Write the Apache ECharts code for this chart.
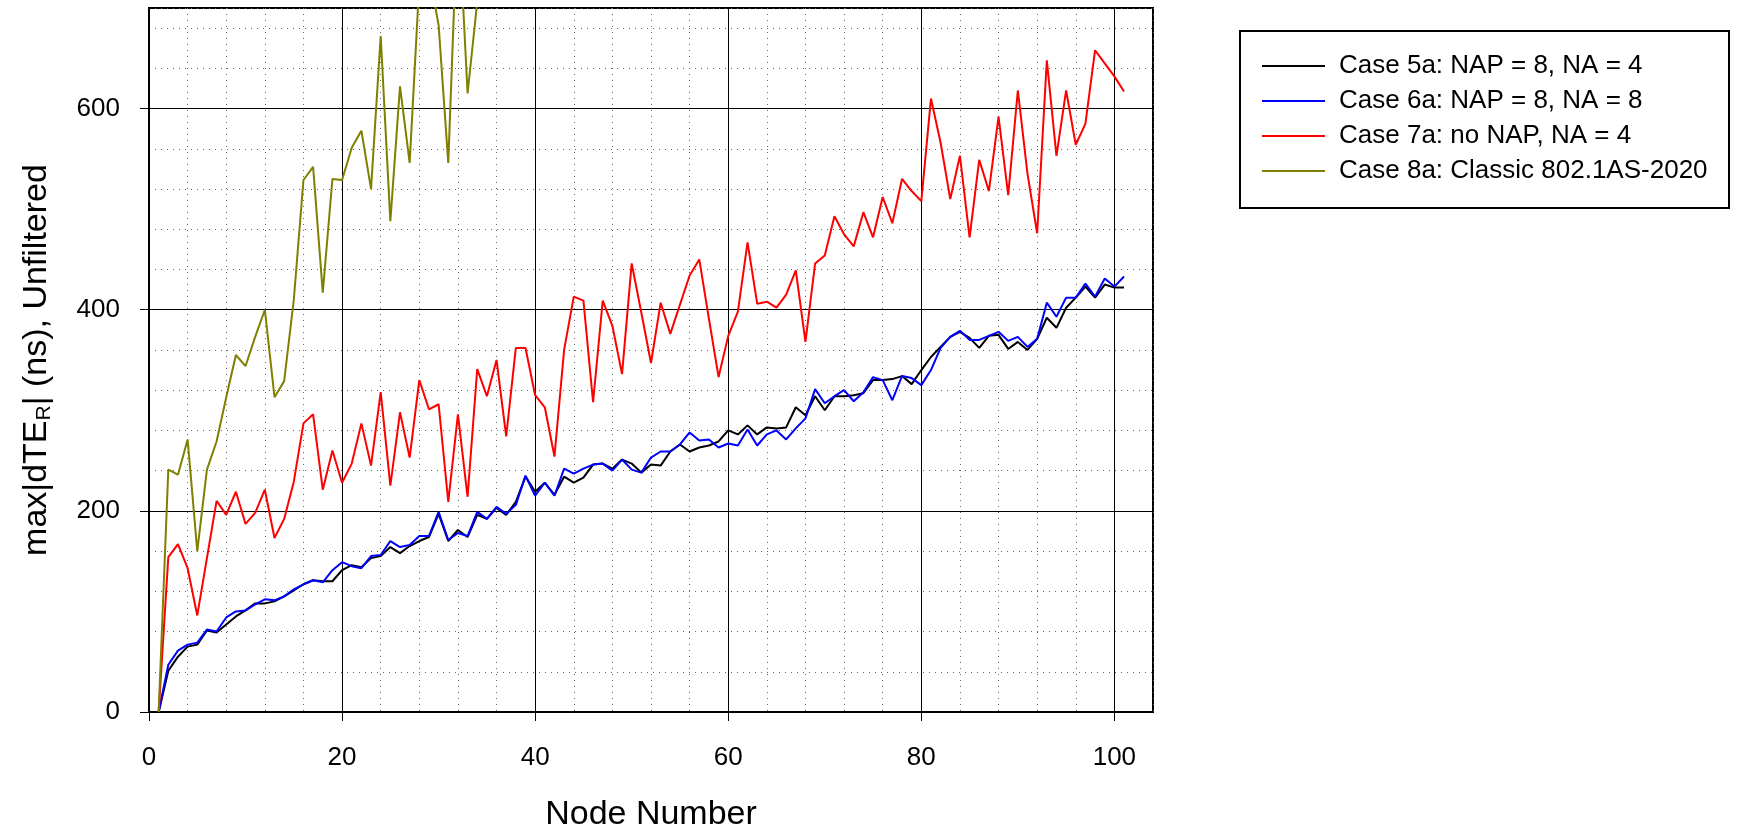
<!DOCTYPE html>
<html>
<head>
<meta charset="utf-8">
<title>max|dTE_R| vs Node Number</title>
<script src="https://cdn.jsdelivr.net/npm/echarts@6/dist/echarts.min.js"></script>
<style>
  html, body { margin: 0; padding: 0; background: #fff; }
  #chart { width: 1760px; height: 825px; }
</style>
</head>
<body>
<div id="chart"></div>
<script>
// Node numbers along the chain
const nodes = [
  1, 2, 3, 4, 5, 6, 7, 8, 9, 10, 11, 12, 13, 14, 15, 16, 17, 18, 19, 20,
  21, 22, 23, 24, 25, 26, 27, 28, 29, 30, 31, 32, 33, 34, 35, 36, 37, 38, 39, 40,
  41, 42, 43, 44, 45, 46, 47, 48, 49, 50, 51, 52, 53, 54, 55, 56, 57, 58, 59, 60,
  61, 62, 63, 64, 65, 66, 67, 68, 69, 70, 71, 72, 73, 74, 75, 76, 77, 78, 79, 80,
  81, 82, 83, 84, 85, 86, 87, 88, 89, 90, 91, 92, 93, 94, 95, 96, 97, 98, 99, 100, 101
];

// max|dTE_R| (ns), unfiltered, per node
const case5a = [
  0, 41, 55, 65, 67, 81, 79, 87, 95, 101, 108, 108, 110, 115, 121, 127, 131, 130, 130, 141,
  146, 144, 153, 155, 164, 158, 165, 170, 174, 197, 170, 181, 174, 196, 192, 203, 196, 209, 234, 219,
  228, 216, 234, 228, 233, 246, 247, 242, 251, 247, 238, 246, 245, 259, 266, 259, 263, 265, 269, 280,
  276, 285, 276, 283, 282, 283, 303, 295, 314, 300, 314, 314, 315, 317, 330, 330, 331, 334, 326, 340,
  353, 363, 373, 378, 372, 362, 374, 375, 361, 368, 360, 371, 392, 382, 402, 412, 423, 412, 425, 422, 422
];
const case6a = [
  0, 47, 61, 67, 69, 82, 80, 94, 100, 101, 107, 112, 111, 115, 122, 127, 131, 129, 141, 149,
  145, 143, 155, 156, 170, 164, 166, 175, 175, 199, 171, 178, 175, 199, 192, 204, 197, 206, 235, 215,
  228, 215, 242, 237, 242, 246, 247, 240, 251, 241, 238, 253, 259, 259, 266, 278, 270, 271, 263, 267,
  265, 281, 265, 276, 280, 271, 282, 292, 321, 307, 314, 320, 309, 318, 333, 330, 310, 334, 332, 325,
  340, 362, 373, 379, 370, 370, 374, 378, 369, 373, 363, 371, 407, 393, 412, 412, 426, 413, 431, 423, 433
];
const case7a = [
  0, 154, 167, 143, 96, 153, 210, 196, 219, 187, 198, 221, 173, 192, 229, 287, 296, 221, 260, 228,
  247, 287, 245, 318, 225, 298, 253, 330, 301, 306, 209, 296, 214, 341, 314, 350, 274, 362, 362, 315,
  303, 254, 360, 413, 409, 308, 409, 384, 336, 446, 397, 347, 407, 376, 405, 434, 450, 391, 333, 374,
  398, 467, 406, 408, 402, 415, 439, 368, 446, 454, 493, 475, 463, 497, 472, 512, 486, 530, 518, 508,
  610, 566, 510, 553, 472, 549, 518, 592, 514, 618, 535, 476, 648, 553, 618, 564, 585, 658, 645, 632, 617
];
// Classic case leaves the plotted range after node 34
const case8a = [
  0, 241, 236, 271, 160, 241, 269, 313, 355, 344, 373, 400, 313, 329, 410, 529, 542, 417, 530, 529,
  561, 578, 520, 672, 488, 622, 546, 725, 735, 683, 546, 805, 615, 706
];

const seriesNames = [
  'Case 5a: NAP = 8, NA = 4',
  'Case 6a: NAP = 8, NA = 8',
  'Case 7a: no NAP, NA = 4',
  'Case 8a: Classic 802.1AS-2020'
];
const seriesColors = ['#000000', '#0000ff', '#ff0000', '#808000'];
const seriesValues = [case5a, case6a, case7a, case8a];

const xTickValues = [0, 20, 40, 60, 80, 100];
const yTickValues = [0, 200, 400, 600];

const FONT = 'Liberation Sans, Arial, sans-serif';

function pairs(values) {
  return values.map((v, i) => [nodes[i], v]);
}

const chart = echarts.init(document.getElementById('chart'), null, { renderer: 'canvas' });

const dotted = { color: '#666', width: 1, type: [1, 5] };

chart.setOption({
  animation: false,
  backgroundColor: '#fff',
  grid: {
    left: 149, top: 8, right: 607, bottom: 113,
    outerBoundsMode: 'none', containLabel: false,
    show: true, borderColor: '#000', borderWidth: 2, backgroundColor: 'transparent'
  },
  graphic: [{
    type: 'rect',
    shape: { x: 1240, y: 31, width: 489, height: 177 },
    style: { fill: 'transparent', stroke: '#000', lineWidth: 2 },
    z: 10
  }],
  legend: {
    left: 1257, top: 47, orient: 'vertical',
    icon: 'rect', itemWidth: 63, itemHeight: 2, itemGap: 7,
    textStyle: { fontFamily: FONT, fontSize: 26, lineHeight: 28, color: '#000', padding: [0, 0, 0, 9] },
    data: seriesNames
  },
  xAxis: [
    {
      type: 'value', min: 0, max: 104, interval: 20, z: 1,
      name: 'Node Number', nameLocation: 'middle', nameGap: 86,
      nameTextStyle: { fontFamily: FONT, fontSize: 34, color: '#000' },
      axisLine: { show: true, onZero: false, lineStyle: { color: '#000', width: 2 } },
      axisTick: { show: true, inside: false, length: 9, customValues: xTickValues, lineStyle: { color: '#000', width: 1 } },
      axisLabel: {
        customValues: xTickValues, margin: 33, fontFamily: FONT, fontSize: 26, color: '#000',
        formatter: v => (v % 20 === 0 ? String(v) : '')
      },
      splitLine: { show: true, lineStyle: { color: '#000', width: 1 } }
    },
    {
      type: 'value', min: 0, max: 104, interval: 4, z: 0, position: 'top',
      axisLine: { show: false }, axisTick: { show: false }, axisLabel: { show: false },
      splitLine: { show: true, lineStyle: dotted }
    }
  ],
  yAxis: [
    {
      type: 'value', min: 0, max: 700, interval: 200, z: 1,
      name: 'max|dTE{s|R}| (ns), Unfiltered', nameLocation: 'middle', nameGap: 94, nameRotate: 90,
      nameTextStyle: {
        fontFamily: FONT, fontSize: 34, color: '#000',
        rich: {
          s: { fontFamily: FONT, fontSize: 21, color: '#000', verticalAlign: 'bottom', padding: [15, 0, 0, 0] }
        }
      },
      axisLine: { show: true, onZero: false, lineStyle: { color: '#000', width: 2 } },
      axisTick: { show: true, inside: false, length: 9, customValues: yTickValues, lineStyle: { color: '#000', width: 1 } },
      axisLabel: {
        customValues: yTickValues, margin: 29, fontFamily: FONT, fontSize: 26, color: '#000',
        formatter: v => (v % 200 === 0 ? String(v) : '')
      },
      splitLine: { show: true, lineStyle: { color: '#000', width: 1 } }
    },
    {
      type: 'value', min: 0, max: 700, interval: 40, z: 0, position: 'right',
      axisLine: { show: false }, axisTick: { show: false }, axisLabel: { show: false },
      splitLine: { show: true, lineStyle: dotted }
    }
  ],
  series: seriesValues.map((vals, k) => ({
    name: seriesNames[k],
    type: 'line',
    xAxisIndex: 0, yAxisIndex: 0,
    data: pairs(vals),
    showSymbol: false, symbol: 'none',
    clip: true,
    z: 3,
    color: seriesColors[k],
    lineStyle: { color: seriesColors[k], width: 2 }
  }))
});
</script>
</body>
</html>
